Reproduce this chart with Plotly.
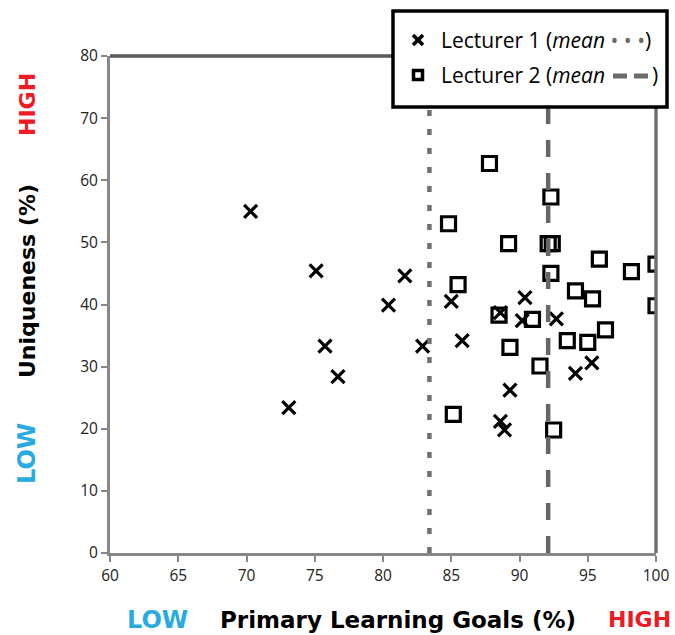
import plotly.graph_objects as go

# ---------------- data ----------------
lect1_x = [70.3, 75.1, 75.75, 76.7, 73.1, 80.4, 81.6, 82.9, 85.0, 85.8,
           90.4, 88.6, 90.2, 92.7, 95.3, 94.1, 89.3, 88.6, 88.9]
lect1_y = [55.0, 45.4, 33.3, 28.4, 23.4, 39.9, 44.6, 33.3, 40.5, 34.2,
           41.1, 38.7, 37.4, 37.7, 30.6, 28.9, 26.2, 21.2, 19.8]

lect2_x = [87.8, 92.3, 84.8, 89.2, 92.1, 92.4, 92.3, 95.85, 98.2, 100.0,
           100.0, 85.5, 94.1, 95.35, 88.5, 90.95, 96.3, 93.5, 95.0, 89.3,
           91.5, 85.15, 92.5]
lect2_y = [62.7, 57.3, 53.0, 49.8, 49.8, 49.8, 45.0, 47.3, 45.3, 46.5,
           39.8, 43.2, 42.2, 40.9, 38.3, 37.6, 35.9, 34.2, 33.9, 33.1,
           30.1, 22.3, 19.8]

mean_lect1 = 83.4
mean_lect2 = 92.1

x_ticks = [60, 65, 70, 75, 80, 85, 90, 95, 100]
y_ticks = [0, 10, 20, 30, 40, 50, 60, 70, 80]

series_names = ["Lecturer 1", "Lecturer 2"]

# ---------------- layout geometry ----------------
W, H = 675, 635
L, R, T, B = 110, 656, 56, 553  # plot area in pixels


def px(xp):
    return (xp - L) / (R - L)


def py(yp):
    return (B - yp) / (B - T)


FONT = "Open Sans"
TFONT = "DejaVu Sans"
CYAN = "#29ABE2"
RED = "#ED1C24"
AXIS_GRAY = "#878787"
MEAN_GRAY = "#6b6b6b"

fig = go.Figure()

fig.add_trace(go.Scatter(
    x=lect1_x, y=lect1_y, mode="markers", name=series_names[0],
    marker=dict(symbol="x-thin", size=13, color="black",
                line=dict(color="black", width=3.2)),
    showlegend=False,
))
fig.add_trace(go.Scatter(
    x=lect2_x, y=lect2_y, mode="markers", name=series_names[1],
    marker=dict(symbol="square-open", size=14, color="black",
                line=dict(color="black", width=3.2)),
    showlegend=False,
))

shapes = []
# mean lines
shapes.append(dict(type="line", xref="x", yref="y", x0=mean_lect1, x1=mean_lect1,
                   y0=0, y1=80, line=dict(color="#707070", width=4.5, dash="6px,13px"),
                   layer="above"))
shapes.append(dict(type="line", xref="x", yref="y", x0=mean_lect2, x1=mean_lect2,
                   y0=0, y1=80, line=dict(color="#666666", width=4.5, dash="17px,16px"),
                   layer="above"))
# top and right frame
shapes.append(dict(type="line", xref="paper", yref="paper", x0=0, x1=1, y0=1, y1=1,
                   line=dict(color="#5a5a5a", width=3.5), layer="above"))
shapes.append(dict(type="line", xref="paper", yref="paper", x0=1, x1=1, y0=0, y1=1,
                   line=dict(color="#6f6f6f", width=3.5), layer="above"))
# legend box
shapes.append(dict(type="rect", xref="paper", yref="paper",
                   x0=px(393), x1=px(667), y0=py(107), y1=py(11),
                   line=dict(color="black", width=3.5), fillcolor="white", layer="above"))
# legend symbols
cx, cy1, cy2, hs = 418, 40, 75, 5
shapes.append(dict(type="line", xref="paper", yref="paper",
                   x0=px(cx - hs), x1=px(cx + hs), y0=py(cy1 - hs), y1=py(cy1 + hs),
                   line=dict(color="black", width=3.5), layer="above"))
shapes.append(dict(type="line", xref="paper", yref="paper",
                   x0=px(cx - hs), x1=px(cx + hs), y0=py(cy1 + hs), y1=py(cy1 - hs),
                   line=dict(color="black", width=3.5), layer="above"))
shapes.append(dict(type="rect", xref="paper", yref="paper",
                   x0=px(cx - 4.5), x1=px(cx + 4.5), y0=py(cy2 + 4.5), y1=py(cy2 - 4.5),
                   line=dict(color="black", width=3.5), fillcolor="white", layer="above"))
# legend dash sample for lecturer 2
for d0, d1 in [(613, 627), (634, 648)]:
    shapes.append(dict(type="line", xref="paper", yref="paper",
                       x0=px(d0), x1=px(d1), y0=py(cy2 + 1), y1=py(cy2 + 1),
                       line=dict(color=MEAN_GRAY, width=5), layer="above"))

annotations = []
annotations.append(dict(xref="paper", yref="paper", x=px(439), y=py(cy1),
                        xanchor="left", yanchor="middle", showarrow=False,
                        text=series_names[0] + ' (<i>mean</i> <span style="color:%s">\u2022 \u2022 \u2022</span>)' % MEAN_GRAY,
                        font=dict(family=FONT, size=21, color="black")))
annotations.append(dict(xref="paper", yref="paper", x=px(439), y=py(cy2),
                        xanchor="left", yanchor="middle", showarrow=False,
                        text=series_names[1] + ' (<i>mean</i>',
                        font=dict(family=FONT, size=21, color="black")))
annotations.append(dict(xref="paper", yref="paper", x=px(650), y=py(cy2),
                        xanchor="left", yanchor="middle", showarrow=False,
                        text=')',
                        font=dict(family=FONT, size=21, color="black")))
# axis titles
annotations.append(dict(xref="paper", yref="paper", x=px(397.5), y=py(620),
                        xanchor="center", yanchor="middle", showarrow=False,
                        text="<b>Primary Learning Goals (%)</b>",
                        font=dict(family=TFONT, size=23, color="black")))
annotations.append(dict(xref="paper", yref="paper", x=px(157), y=py(620),
                        xanchor="center", yanchor="middle", showarrow=False,
                        text="<b>LOW</b>", font=dict(family=TFONT, size=24, color=CYAN)))
annotations.append(dict(xref="paper", yref="paper", x=px(639), y=py(620),
                        xanchor="center", yanchor="middle", showarrow=False,
                        text="<b>HIGH</b>", font=dict(family=TFONT, size=22, color=RED)))
annotations.append(dict(xref="paper", yref="paper", x=px(27), y=py(281),
                        xanchor="center", yanchor="middle", showarrow=False, textangle=-90,
                        text="<b>Uniqueness (%)</b>",
                        font=dict(family=TFONT, size=22, color="black")))
annotations.append(dict(xref="paper", yref="paper", x=px(27), y=py(105),
                        xanchor="center", yanchor="middle", showarrow=False, textangle=-90,
                        text="<b>HIGH</b>", font=dict(family=TFONT, size=22, color=RED)))
annotations.append(dict(xref="paper", yref="paper", x=px(27), y=py(454),
                        xanchor="center", yanchor="middle", showarrow=False, textangle=-90,
                        text="<b>LOW</b>", font=dict(family=TFONT, size=24, color=CYAN)))

axis_common = dict(showgrid=False, zeroline=False, showline=True, linecolor=AXIS_GRAY,
                   linewidth=3, ticks="outside", ticklen=6, tickwidth=2, automargin=False,
                   tickcolor=AXIS_GRAY, tickfont=dict(family=FONT, size=15.5, color="#222222"))

fig.update_layout(
    width=W, height=H,
    margin=dict(l=L, r=W - R, t=T, b=H - B, pad=0, autoexpand=False),
    paper_bgcolor="white", plot_bgcolor="white",
    xaxis=dict(range=[60, 100], tickvals=x_ticks, ticktext=[str(v) for v in x_ticks],
               **axis_common),
    yaxis=dict(range=[0, 80], tickvals=y_ticks, ticktext=[str(v) for v in y_ticks],
               **axis_common),
    shapes=shapes,
    annotations=annotations,
    showlegend=False,
)

fig.write_html("out.html",
               config={"displayModeBar": False},
               post_script="document.body.style.margin='0';document.body.style.padding='0';")
